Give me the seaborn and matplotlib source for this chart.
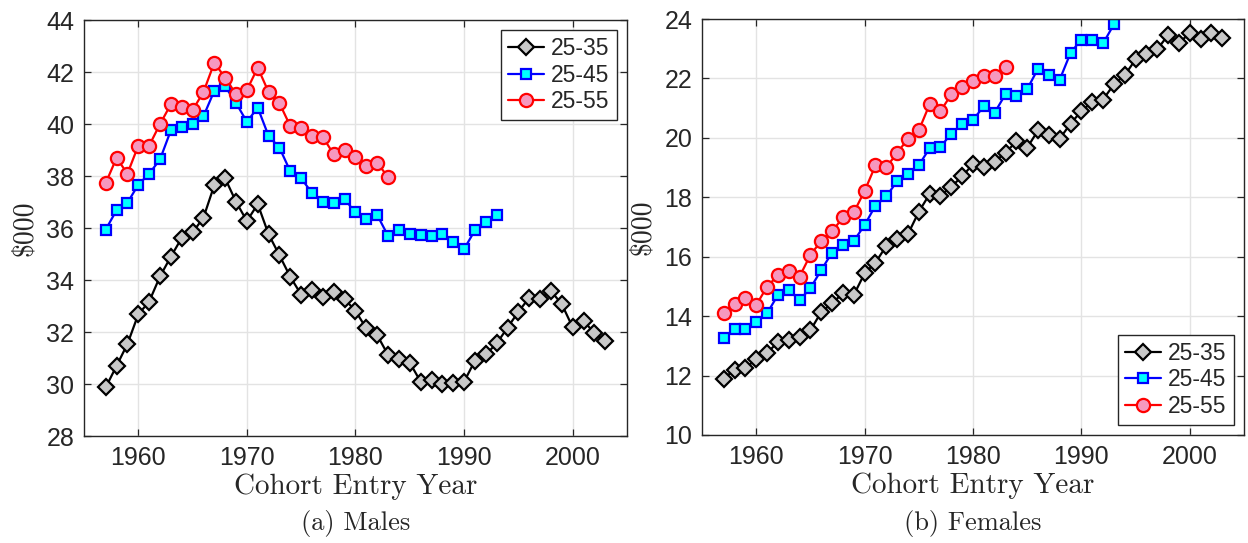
import matplotlib
matplotlib.use("Agg")
import matplotlib.pyplot as plt
import seaborn as sns

# cohort entry years
years_35 = list(range(1957, 2004))
years_45 = list(range(1957, 1994))
years_55 = list(range(1957, 1984))

# males, $000
male_35 = [29.87, 30.70, 31.54, 32.68, 33.17, 34.14, 34.90, 35.62, 35.83, 36.40,
           37.65, 37.91, 37.01, 36.27, 36.92, 35.76, 34.95, 34.12, 33.44, 33.62,
           33.36, 33.53, 33.27, 32.81, 32.14, 31.88, 31.12, 30.96, 30.82, 30.09,
           30.15, 30.00, 30.05, 30.09, 30.90, 31.14, 31.56, 32.17, 32.78, 33.32,
           33.28, 33.58, 33.07, 32.18, 32.44, 31.95, 31.65]
male_45 = [35.94, 36.69, 36.97, 37.67, 38.09, 38.64, 39.76, 39.87, 40.00, 40.30,
           41.28, 41.45, 40.81, 40.09, 40.63, 39.54, 39.09, 38.18, 37.91, 37.35,
           37.01, 36.97, 37.11, 36.60, 36.36, 36.50, 35.70, 35.92, 35.77, 35.73,
           35.69, 35.79, 35.45, 35.19, 35.92, 36.24, 36.51]
male_55 = [37.73, 38.70, 38.09, 39.17, 39.17, 40.00, 40.76, 40.67, 40.54, 41.23,
           42.36, 41.78, 41.15, 41.31, 42.17, 41.23, 40.80, 39.92, 39.83, 39.54,
           39.50, 38.83, 39.02, 38.74, 38.38, 38.52, 37.95]

# females, $000
female_35 = [11.89, 12.20, 12.26, 12.54, 12.76, 13.12, 13.21, 13.29, 13.52, 14.14,
             14.43, 14.77, 14.71, 15.44, 15.80, 16.36, 16.59, 16.76, 17.51, 18.11,
             18.05, 18.36, 18.70, 19.12, 19.01, 19.20, 19.50, 19.88, 19.67, 20.25,
             20.08, 19.97, 20.48, 20.90, 21.21, 21.29, 21.80, 22.11, 22.64, 22.81,
             22.98, 23.46, 23.18, 23.54, 23.32, 23.54, 23.35]
female_45 = [13.27, 13.57, 13.58, 13.81, 14.09, 14.71, 14.88, 14.54, 14.94, 15.55,
             16.14, 16.40, 16.53, 17.06, 17.72, 18.03, 18.54, 18.79, 19.08, 19.65,
             19.70, 20.14, 20.47, 20.61, 21.06, 20.85, 21.47, 21.41, 21.64, 22.33,
             22.13, 21.96, 22.86, 23.31, 23.31, 23.18, 23.82]
female_55 = [14.11, 14.40, 14.60, 14.37, 14.99, 15.37, 15.53, 15.33, 16.06, 16.53,
             16.85, 17.32, 17.49, 18.21, 19.07, 19.01, 19.49, 19.97, 20.25, 21.13,
             20.90, 21.46, 21.72, 21.92, 22.09, 22.09, 22.37]

labels = ["25-35", "25-45", "25-55"]
x_ticks = [1960, 1970, 1980, 1990, 2000]

sns.set_style("whitegrid")
plt.rcParams["font.family"] = ["Liberation Sans", "DejaVu Sans"]
serif = ["cmr10", "DejaVu Serif"]
dark = "#262626"

styles = [
    dict(color="black", marker="D", markersize=8.5, markerfacecolor="#c8c8c8",
         markeredgecolor="black"),
    dict(color="blue", marker="s", markersize=7.5, markerfacecolor="cyan",
         markeredgecolor="blue"),
    dict(color="red", marker="o", markersize=9.5, markerfacecolor="#f698bf",
         markeredgecolor="red"),
]

fig = plt.figure(figsize=(12.48, 5.43), dpi=100)
ax1 = fig.add_axes([0.0673, 0.197, 0.4351, 0.766])
ax2 = fig.add_axes([0.5625, 0.199, 0.4343, 0.766])

panels = [
    (ax1, [male_35, male_45, male_55], (28, 44), "upper right", "(a) Males"),
    (ax2, [female_35, female_45, female_55], (10, 24), "lower right", "(b) Females"),
]
years = [years_35, years_45, years_55]

for ax, series, ylim, loc, caption in panels:
    for yrs, vals, lab, st in zip(years, series, labels, styles):
        sns.lineplot(x=yrs, y=vals, ax=ax, label=lab, linewidth=1.6,
                     markeredgewidth=1.6, **st)
    ax.set_xlim(1955, 2005)
    ax.set_ylim(*ylim)
    ax.set_xticks(x_ticks)
    ax.set_yticks(range(ylim[0], ylim[1] + 1, 2))
    ax.grid(True, color="#e3e3e3", linewidth=1.0)
    for sp in ax.spines.values():
        sp.set_color(dark)
        sp.set_linewidth(1.0)
    ax.tick_params(direction="in", length=5, width=0.9, color=dark,
                   labelcolor=dark, labelsize=18, pad=7,
                   top=True, right=True, bottom=True, left=True)
    ax.set_xlabel("Cohort Entry Year", family=serif, fontsize=21, labelpad=3)
    ax.set_ylabel(r"\$000", family=serif, fontsize=20, labelpad=6)
    leg = ax.legend(loc=loc, fontsize=16.5, frameon=True, fancybox=False,
                    handlelength=1.6, handletextpad=0.3, labelspacing=0.15,
                    borderpad=0.3, borderaxespad=0.45)
    leg.get_frame().set_edgecolor(dark)
    leg.get_frame().set_linewidth(1.0)
    leg.get_frame().set_alpha(1)
    pos = ax.get_position()
    fig.text(pos.x0 + pos.width / 2, 0.035, caption, family=serif,
             fontsize=19, ha="center", va="center")

fig.savefig("out.png", dpi=100)
